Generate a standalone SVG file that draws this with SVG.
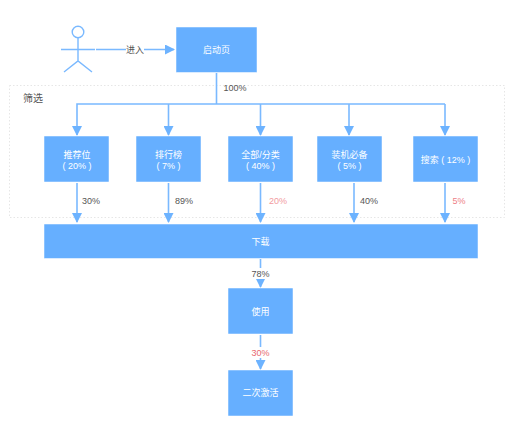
<svg xmlns="http://www.w3.org/2000/svg" width="507" height="443" viewBox="0 0 507 443">
<style>
text{font-family:"Liberation Sans","Noto Sans CJK SC",sans-serif;font-size:9px;text-anchor:middle}
.n rect{fill:#66afff;stroke:#fff;stroke-width:.5}
.n text{fill:#fff}
.l{fill:#555}
.r{fill:#f29a9e}
.c line,.c path{stroke:#7ab9ff;stroke-width:1.6;fill:none}
.a{fill:#6db3ff;stroke:none}
</style>
<defs>
<marker id="ah" viewBox="0 0 10 10" refX="9" refY="5" markerWidth="10" markerHeight="10" markerUnits="userSpaceOnUse" orient="auto-start-reverse"><path d="M0 0L10 5L0 10Z" class="a"/></marker>
</defs>
<rect width="507" height="443" fill="#fff"/>
<g id="filter-box">
<rect x="9.500" y="85.500" width="495" height="132" fill="none" stroke="#e6e6e6" stroke-width="1" stroke-dasharray="1.500 2"/>
<text x="33" y="102" style="font-size:10px" class="l">筛选</text>
</g>
<g class="c" id="connectors">
<line x1="96" y1="49.500" x2="174" y2="49.500" marker-end="url(#ah)"/>
<line x1="216.500" y1="73" x2="216.500" y2="104"/>
<path d="M445 104H77V135" marker-end="url(#ah)"/>
<line x1="168.500" y1="104" x2="168.500" y2="135" marker-end="url(#ah)"/>
<line x1="260.500" y1="104" x2="260.500" y2="135" marker-end="url(#ah)"/>
<line x1="349" y1="104" x2="349" y2="135" marker-end="url(#ah)"/>
<line x1="445" y1="104" x2="445" y2="135" marker-end="url(#ah)"/>
<line x1="77" y1="183" x2="77" y2="222" marker-end="url(#ah)"/>
<line x1="168.500" y1="183" x2="168.500" y2="222" marker-end="url(#ah)"/>
<line x1="260.500" y1="183" x2="260.500" y2="222" marker-end="url(#ah)"/>
<line x1="354" y1="183" x2="354" y2="222" marker-end="url(#ah)"/>
<line x1="445" y1="183" x2="445" y2="222" marker-end="url(#ah)"/>
<line x1="260.500" y1="259" x2="260.500" y2="287" marker-end="url(#ah)"/>
<line x1="260.500" y1="335" x2="260.500" y2="369" marker-end="url(#ah)"/>
</g>
<g id="edge-labels">
<rect x="126" y="44" width="18" height="11" fill="#fff"/>
<text x="135" y="53" class="l">进入</text>
<text x="235" y="91" class="l">100%</text>
<text x="91" y="204" class="l">30%</text>
<text x="184" y="204" class="l">89%</text>
<text x="278" y="204" class="r">20%</text>
<text x="369" y="204" class="l">40%</text>
<text x="459" y="204" class="r" style="fill:#ee8086">5%</text>
<rect x="250" y="268" width="21" height="11" fill="#fff"/>
<text x="260.500" y="277" class="l">78%</text>
<rect x="250" y="347" width="21" height="11" fill="#fff"/>
<text x="260.500" y="356" class="r" style="fill:#e8686e">30%</text>
</g>
<g id="actor" fill="none" stroke="#7ab9ff" stroke-width="1.400">
<circle cx="78" cy="32" r="5.800"/>
<path d="M78 38V61M61 49.500H95M64 72L78 61L92 72"/>
</g>
<g id="start" class="n"><rect x="176" y="27" width="81" height="45.500"/><text x="216.500" y="52.500">启动页</text></g>
<g id="n1" class="n"><rect x="44" y="136" width="65" height="46"/><text x="77" y="157.500">推荐位</text><text x="77" y="168.500">( 20% )</text></g>
<g id="n2" class="n"><rect x="136" y="136" width="65" height="46"/><text x="168.500" y="157.500">排行榜</text><text x="168.500" y="168.500">( 7% )</text></g>
<g id="n3" class="n"><rect x="228" y="136" width="65" height="46"/><text x="260.500" y="157.500">全部/分类</text><text x="260.500" y="168.500">( 40% )</text></g>
<g id="n4" class="n"><rect x="317" y="136" width="65" height="46"/><text x="349.500" y="157.500">装机必备</text><text x="349.500" y="168.500">( 5% )</text></g>
<g id="n5" class="n"><rect x="413" y="136" width="65" height="46"/><text x="445.500" y="163">搜索 ( 12% )</text></g>
<g id="download" class="n"><rect x="44" y="224" width="434" height="34.500"/><text x="260.500" y="245">下载</text></g>
<g id="use" class="n"><rect x="228" y="288" width="65" height="46"/><text x="260.500" y="315">使用</text></g>
<g id="reactivate" class="n"><rect x="228" y="370" width="65" height="46"/><text x="260.500" y="396">二次激活</text></g>
</svg>
